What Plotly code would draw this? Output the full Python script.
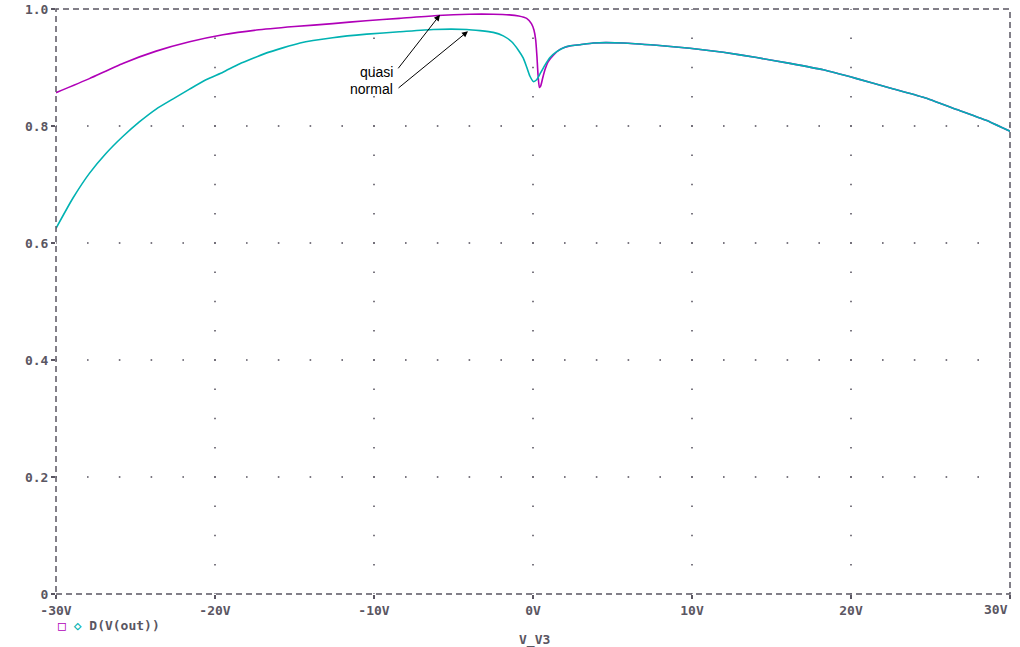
import numpy as np
import plotly.graph_objects as go

# ---- data ----
quasi_v = [-30, -27.9, -25.8, -23.7, -21.6, -19.5, -17.4, -15.0, -12.6, -10.5, -8.4, -6.0,
           -4.0, -2.5, -1.5, -0.9, -0.4, -0.1, 0.06, 0.17, 0.25, 0.31, 0.40, 0.48, 0.61,
           0.75, 0.96, 1.28, 1.70, 2.33, 2.96, 3.79, 5.68, 7.78, 9.87, 11.97, 14.07, 16.16,
           18.26, 20.36, 22.45, 24.55, 26.65, 28.74, 30]
quasi_d = [0.857, 0.881, 0.907, 0.928, 0.944, 0.956, 0.964, 0.970, 0.975, 0.980, 0.984, 0.989,
           0.991, 0.991, 0.990, 0.988, 0.984, 0.975, 0.964, 0.947, 0.918, 0.890, 0.866, 0.868, 0.882,
           0.896, 0.910, 0.921, 0.931, 0.937, 0.939, 0.942, 0.942, 0.938, 0.933, 0.926, 0.917, 0.907,
           0.896, 0.881, 0.865, 0.849, 0.828, 0.807, 0.791]

normal_v = [-30, -28.95, -27.9, -26.86, -25.8, -24.76, -23.7, -22.66, -21.6, -20.57, -19.5,
            -18.47, -17.4, -16.75, -14.65, -12.6, -10.46, -8.4, -6.27, -4.17, -3.33, -2.5,
            -1.87, -1.34, -0.93, -0.61, -0.40, -0.19, 0.02, 0.23, 0.44, 0.75, 1.07, 1.49,
            2.12, 2.96, 3.79, 5.68, 7.78, 9.87, 11.97, 14.07, 16.16, 18.26, 20.36, 22.45,
            24.55, 26.65, 28.74, 30]
normal_d = [0.625, 0.676, 0.719, 0.753, 0.782, 0.807, 0.829, 0.846, 0.863, 0.879, 0.892,
            0.906, 0.918, 0.925, 0.942, 0.951, 0.957, 0.961, 0.965, 0.965, 0.963, 0.960,
            0.954, 0.944, 0.930, 0.916, 0.901, 0.885, 0.876, 0.879, 0.889, 0.904, 0.917, 0.927,
            0.936, 0.939, 0.942, 0.942, 0.938, 0.933, 0.926, 0.917, 0.907, 0.896, 0.881, 0.865,
            0.849, 0.828, 0.807, 0.791]

x_ticks = [-30, -20, -10, 0, 10, 20, 30]
x_labels = ["-30V", "-20V", "-10V", "0V", "10V", "20V", "30V"]
y_ticks = [0, 0.2, 0.4, 0.6, 0.8, 1.0]
y_labels = ["0", "0.2", "0.4", "0.6", "0.8", "1.0"]

# ---- styling ----
GRAY = "#5a5662"
MAGENTA = "#b000b8"
CYAN = "#00b2b2"
mono_font = dict(family="DejaVu Sans Mono", size=13, color=GRAY, weight="bold")

fig = go.Figure()

# dotted grid (dots along major-tick lines)
gx, gy = [], []
for xv in x_ticks[1:-1]:
    for yv in np.arange(0, 1.0001, 0.05):
        gx.append(xv); gy.append(yv)
for yv in y_ticks[1:-1]:
    for xv in np.arange(-30, 30.001, 2):
        gx.append(xv); gy.append(yv)
fig.add_trace(go.Scatter(x=gx, y=gy, mode="markers",
                         marker=dict(symbol="square", size=1.6, color=GRAY, line=dict(width=0)),
                         hoverinfo="skip", showlegend=False))

fig.add_trace(go.Scatter(x=quasi_v, y=quasi_d, mode="lines", name="quasi",
                         line=dict(color=MAGENTA, width=1.6, shape="spline", smoothing=0.5),
                         showlegend=False))
fig.add_trace(go.Scatter(x=normal_v, y=normal_d, mode="lines", name="normal",
                         line=dict(color=CYAN, width=1.6, shape="spline", smoothing=0.5),
                         showlegend=False))

# last x label is drawn right-aligned to the plot edge (as in the reference)
x_text = x_labels[:-1] + [""]

fig.update_layout(
    width=1020, height=647,
    margin=dict(l=56, r=10, t=9, b=53, autoexpand=False),
    plot_bgcolor="white", paper_bgcolor="white",
    xaxis=dict(range=[-30, 30], tickvals=x_ticks, ticktext=x_text, ticks="outside",
               ticklen=4, tickwidth=1.5, tickcolor=GRAY, showgrid=False, zeroline=False,
               showline=False, tickfont=mono_font, automargin=False),
    yaxis=dict(range=[0, 1], tickvals=y_ticks, ticktext=y_labels, ticks="outside",
               ticklen=4, tickwidth=1.5, tickcolor=GRAY, showgrid=False, zeroline=False,
               showline=False, tickfont=mono_font, automargin=False),
    shapes=[dict(type="rect", xref="paper", yref="paper", x0=0, x1=1, y0=0, y1=1,
                 line=dict(color=GRAY, width=1.5, dash="6px,4px"), layer="above")],
)

txt_font = dict(family="Liberation Sans", size=14, color="black")
ann = [
    # arrows
    dict(x=-5.85, y=0.990, ax=-8.55, ay=0.896, xref="x", yref="y", axref="x", ayref="y",
         text="", showarrow=True, arrowhead=2, arrowsize=1.2, arrowwidth=1, arrowcolor="black"),
    dict(x=-4.09, y=0.962, ax=-8.55, ay=0.863, xref="x", yref="y", axref="x", ayref="y",
         text="", showarrow=True, arrowhead=2, arrowsize=1.2, arrowwidth=1, arrowcolor="black"),
    # labels
    dict(x=-8.7, y=0.892, xref="x", yref="y", text="quasi", showarrow=False,
         xanchor="right", yanchor="middle", font=txt_font),
    dict(x=-8.7, y=0.863, xref="x", yref="y", text="normal", showarrow=False,
         xanchor="right", yanchor="middle", font=txt_font),
    # right-most x tick label
    dict(x=1.0, y=-0.026, xref="paper", yref="paper", xanchor="right", yanchor="middle",
         showarrow=False, text=x_labels[-1], font=mono_font),
    # legend
    dict(x=0.0, y=-0.053, xref="paper", yref="paper", xanchor="left", yanchor="middle",
         showarrow=False,
         text=f'<span style="color:{MAGENTA}">□</span> <span style="color:{CYAN}">◇</span> D(V(out))',
         font=mono_font),
    # x axis title
    dict(x=0.502, y=-0.0786, xref="paper", yref="paper", xanchor="center", yanchor="middle",
         showarrow=False, text="V_V3", font=mono_font),
]
fig.update_layout(annotations=ann)

# remove the default page margin so the figure fills the window exactly
fig.write_html("out.html", config={"displayModeBar": False},
               post_script="document.body.style.margin='0';")
